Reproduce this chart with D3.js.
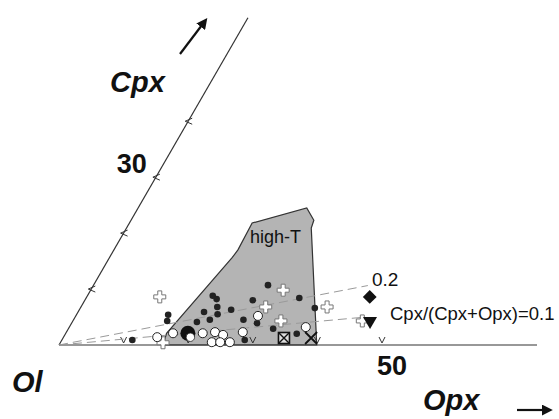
<!DOCTYPE html>
<html>
<head>
<meta charset="utf-8">
<script src="https://cdn.jsdelivr.net/npm/d3@7"></script>
<style>
  body { margin: 0; background: #fff; }
  text { font-family: "Liberation Sans", Arial, Helvetica, sans-serif; fill: #111; }
</style>
</head>
<body>
<script>
// compositions in % : [Opx, Cpx]  (Ol = 100 - Opx - Cpx)
var opxTicks = [10, 20, 30, 40, 50];
var cpxTicks = [10, 20, 30, 40];
var opxMax = 74;
var cpxMax = 58.5;

// Cpx/(Cpx+Opx) reference lines, drawn out to the given Opx value
var ratioLines = [
  { r: 0.2, end: 42.5, label: "0.2" },
  { r: 0.1, end: 44.4, label: "Cpx/(Cpx+Opx)=0.1" }
];

// outline of the high-T field
var highT = [
  [16.1, 0], [15.6, 2.1], [19.0, 15.6], [19.2, 17.0], [19.0, 21.8],
  [26.1, 24.5], [28.3, 22.3], [28.6, 20.9], [39.9, 0]
];

var blackDots = [
  [27.0, 10.7], [33.0, 8.4], [26.0, 8.0], [19.4, 8.8], [20.3, 8.2],
  [21.1, 6.8], [19.5, 5.9], [21.8, 5.5], [23.5, 6.3], [21.1, 4.5],
  [14.2, 5.4], [14.6, 4.3], [26.3, 4.5], [28.7, 3.9], [36.3, 6.6],
  [31.7, 2.9], [19.3, 4.1], [10.9, 0.9], [28.3, 0.9], [35.8, 2.0]
];

var whiteDots = [
  [28.2, 5.2], [36.6, 3.2], [14.5, 1.4], [16.6, 2.1], [21.2, 2.1],
  [23.0, 2.3], [24.5, 1.8], [23.4, 0.5], [24.7, 0.5], [26.2, 0.5],
  [27.3, 2.3]
];

var crosses = [
  [29.8, 9.8], [11.3, 8.6], [28.6, 6.8], [38.1, 6.8], [32.2, 4.3],
  [44.8, 4.3], [15.9, 0.4]
];

var bigDot = [[18.9, 2.1]];
var diamonds = [[43.8, 8.6]];
var triangles = [[46.0, 4.3]];
var boxX = [[34.2, 1.25]];
var crossX = [[38.4, 1.25]];

var svgWidth = 559;
var svgHeight = 419;
var x0 = 59, y0 = 345;

var s = d3.scaleLinear().domain([0, 100]).range([0, 646]);
var cos60 = 0.5, sin60 = Math.sqrt(3) / 2;

function px(d) { return x0 + s(d[0]) + s(d[1]) * cos60; }
function py(d) { return y0 - s(d[1]) * sin60; }

var svg = d3.select("body")
  .append("svg")
  .attr("width", svgWidth)
  .attr("height", svgHeight);

var defs = svg.append("defs");
defs.append("marker")
  .attr("id", "head")
  .attr("viewBox", "0 0 10 10")
  .attr("refX", 2).attr("refY", 5)
  .attr("markerWidth", 5).attr("markerHeight", 5)
  .attr("orient", "auto")
  .append("path")
  .attr("d", "M0,0 L10,5 L0,10 z")
  .attr("fill", "#111");

// high-T field
svg.append("path")
  .attr("d", d3.line().x(px).y(py)(highT) + "Z")
  .attr("fill", "#b4b4b4")
  .attr("stroke", "#333")
  .attr("stroke-width", 1.2);

// axes
svg.append("line")
  .attr("x1", px([0, 0])).attr("y1", py([0, 0]))
  .attr("x2", px([opxMax, 0])).attr("y2", py([opxMax, 0]))
  .attr("stroke", "#333").attr("stroke-width", 1.2);

svg.append("line")
  .attr("x1", px([0, 0])).attr("y1", py([0, 0]))
  .attr("x2", px([0, cpxMax])).attr("y2", py([0, cpxMax]))
  .attr("stroke", "#333").attr("stroke-width", 1.2);

// ticks
svg.selectAll(".opxTick")
  .data(opxTicks)
  .enter()
  .append("path")
  .attr("class", "opxTick")
  .attr("d", function(t) {
    var x = px([t, 0]), y = py([t, 0]);
    return "M" + (x - 3) + "," + (y - 8) + "L" + x + "," + (y - 2) + "L" + (x + 3) + "," + (y - 8);
  })
  .attr("fill", "none").attr("stroke", "#333").attr("stroke-width", 1);

svg.selectAll(".cpxTick")
  .data(cpxTicks)
  .enter()
  .append("path")
  .attr("class", "cpxTick")
  .attr("d", function(t) {
    var x = px([0, t]), y = py([0, t]);
    return "M" + (x + 4) + "," + (y - 3) + "L" + (x - 3) + "," + y + "L" + (x + 4) + "," + (y + 3);
  })
  .attr("fill", "none").attr("stroke", "#333").attr("stroke-width", 1);

// ratio lines
ratioLines.forEach(function(l) {
  var endPt = [l.end, l.end * l.r / (1 - l.r)];
  svg.append("line")
    .attr("x1", px([0, 0])).attr("y1", py([0, 0]))
    .attr("x2", px(endPt)).attr("y2", py(endPt))
    .attr("stroke", "#9a9a9a")
    .attr("stroke-width", 1)
    .attr("stroke-dasharray", "9,5");
});

// markers
svg.selectAll(".blk")
  .data(blackDots)
  .enter()
  .append("circle")
  .attr("cx", px).attr("cy", py)
  .attr("r", 3.3)
  .attr("fill", "#222");

svg.selectAll(".cross")
  .data(crosses)
  .enter()
  .append("path")
  .attr("d", d3.symbol().type(d3.symbolCross).size(80))
  .attr("transform", function(d) { return "translate(" + px(d) + "," + py(d) + ")"; })
  .attr("fill", "#fff")
  .attr("stroke", "#777")
  .attr("stroke-width", 1);

svg.selectAll(".wht")
  .data(whiteDots)
  .enter()
  .append("circle")
  .attr("cx", px).attr("cy", py)
  .attr("r", 4.5)
  .attr("fill", "#fff")
  .attr("stroke", "#222")
  .attr("stroke-width", 1);

bigDot.forEach(function(d) {
  svg.append("circle")
    .attr("cx", px(d)).attr("cy", py(d))
    .attr("r", 7.5).attr("fill", "#111");
  svg.append("circle")
    .attr("cx", px(d) + 2.5).attr("cy", py(d) + 4)
    .attr("r", 4.2).attr("fill", "#fff").attr("stroke", "#222").attr("stroke-width", 0.8);
});

svg.selectAll(".dia")
  .data(diamonds)
  .enter()
  .append("path")
  .attr("d", d3.symbol().type(d3.symbolSquare).size(95))
  .attr("transform", function(d) { return "translate(" + px(d) + "," + py(d) + ") rotate(45)"; })
  .attr("fill", "#111");

svg.selectAll(".tri")
  .data(triangles)
  .enter()
  .append("path")
  .attr("d", d3.symbol().type(d3.symbolTriangle).size(85))
  .attr("transform", function(d) { return "translate(" + px(d) + "," + py(d) + ") rotate(180)"; })
  .attr("fill", "#111");

boxX.forEach(function(d) {
  var x = px(d), y = py(d), h = 5.5;
  svg.append("rect")
    .attr("x", x - h).attr("y", y - h)
    .attr("width", 2 * h).attr("height", 2 * h)
    .attr("fill", "#ddd").attr("stroke", "#111").attr("stroke-width", 1.6);
  svg.append("path")
    .attr("d", "M" + (x - h) + "," + (y - h) + "L" + (x + h) + "," + (y + h) + "M" + (x + h) + "," + (y - h) + "L" + (x - h) + "," + (y + h))
    .attr("stroke", "#111").attr("stroke-width", 1.4);
});

crossX.forEach(function(d) {
  var x = px(d), y = py(d), h = 6;
  svg.append("path")
    .attr("d", "M" + (x - h) + "," + (y - h) + "L" + (x + h) + "," + (y + h) + "M" + (x + h) + "," + (y - h) + "L" + (x - h) + "," + (y + h))
    .attr("stroke", "#111").attr("stroke-width", 1.8);
});

// labels
svg.append("text")
  .attr("x", 250).attr("y", 243)
  .style("font-size", "18px")
  .text("high-T");

svg.append("text")
  .attr("x", 372).attr("y", 286)
  .style("font-size", "19px")
  .text(ratioLines[0].label);

svg.append("text")
  .attr("x", 390).attr("y", 320)
  .style("font-size", "18.5px")
  .text(ratioLines[1].label);

svg.append("text")
  .attr("x", px([0, 30]) - 9).attr("y", py([0, 30]) - 4)
  .attr("text-anchor", "end")
  .style("font-size", "27px").style("font-weight", "bold")
  .text("30");

svg.append("text")
  .attr("x", px([50, 0]) + 10).attr("y", py([50, 0]) + 30)
  .attr("text-anchor", "middle")
  .style("font-size", "27px").style("font-weight", "bold")
  .text("50");

svg.append("text")
  .attr("x", 110).attr("y", 92)
  .style("font-size", "29px").style("font-weight", "bold").style("font-style", "italic")
  .text("Cpx");

svg.append("text")
  .attr("x", 12).attr("y", 392)
  .style("font-size", "29px").style("font-weight", "bold").style("font-style", "italic")
  .text("Ol");

svg.append("text")
  .attr("x", 423).attr("y", 410)
  .style("font-size", "29px").style("font-weight", "bold").style("font-style", "italic")
  .text("Opx");

// direction arrows
svg.append("line")
  .attr("x1", 180).attr("y1", 54).attr("x2", 202).attr("y2", 25)
  .attr("stroke", "#111").attr("stroke-width", 2.2)
  .attr("marker-end", "url(#head)");

svg.append("line")
  .attr("x1", 517).attr("y1", 410).attr("x2", 544).attr("y2", 410)
  .attr("stroke", "#111").attr("stroke-width", 2.2)
  .attr("marker-end", "url(#head)");
</script>
</body>
</html>
